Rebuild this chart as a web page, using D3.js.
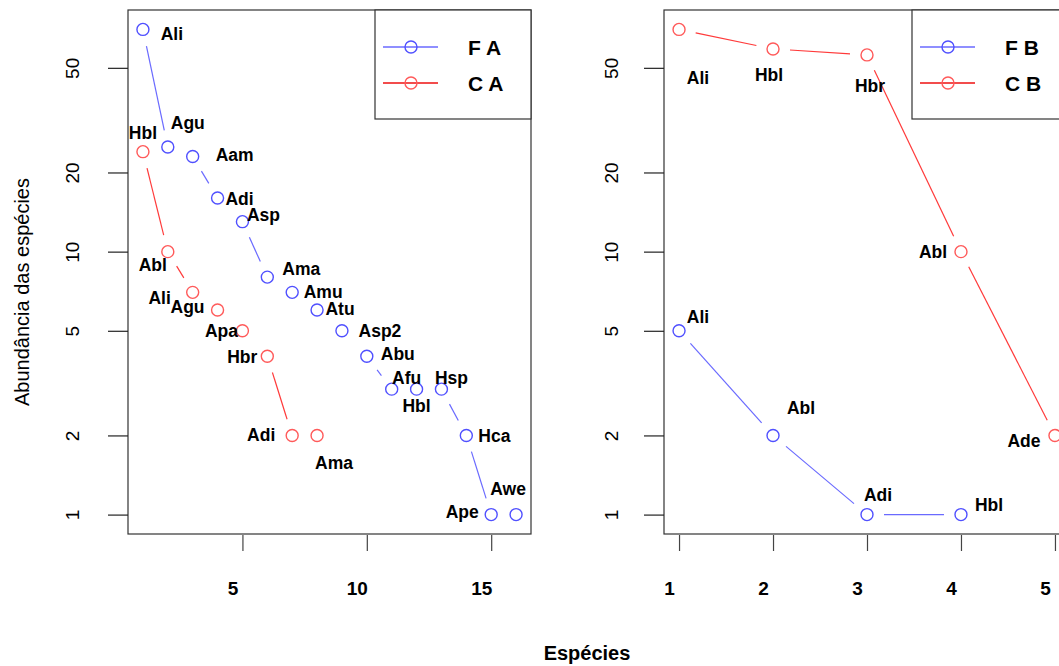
<!DOCTYPE html>
<html>
<head>
<meta charset="utf-8">
<script src="https://cdn.jsdelivr.net/npm/d3@7"></script>
<style>
  html, body { margin: 0; padding: 0; background: #fff; overflow: hidden; }
  text { font-family: "Liberation Sans", Arial, sans-serif; }
</style>
</head>
<body>
<svg id="chart" width="1059" height="666"></svg>
<script>
// ---- Data ----
const faSpecies = ["Ali","Agu","Aam","Adi","Asp","Ama","Amu","Atu","Asp2","Abu","Afu","Hbl","Hsp","Hca","Ape","Awe"];
const faValues  = [70, 25, 23, 16, 13, 8, 7, 6, 5, 4, 3, 3, 3, 2, 1, 1];
const caSpecies = ["Hbl","Abl","Ali","Agu","Apa","Hbr","Adi","Ama"];
const caValues  = [24, 10, 7, 6, 5, 4, 2, 2];
const fbSpecies = ["Ali","Abl","Adi","Hbl"];
const fbValues  = [5, 2, 1, 1];
const cbSpecies = ["Ali","Hbl","Hbr","Abl","Ade"];
const cbValues  = [70, 59, 56, 10, 2];
const yTickValues = [1, 2, 5, 10, 20, 50];
const xTicksLeft  = [5, 10, 15];
const xTicksRight = [1, 2, 3, 4, 5];
const legendLeft  = ["F A", "C A"];
const legendRight = ["F B", "C B"];

// label offsets (layout, px) relative to each point
const faLabelOff = [[29,4],[20,-24],[42,-2],[22,1],[21,-7],[34,-8],[31,-1],[23,-1],[38,0],[31,-3],[15,-11],[0,17],[10,-11],[28,0],[-29,-3],[-8,-26]];
const caLabelOff = [[0,-19],[-15,13],[-33,5],[-30,-3],[-21,0],[-25,0],[-31,-1],[17,27]];
const fbLabelOff = [[19,-14],[28,-28],[11,-20],[28,-10]];
const cbLabelOff = [[19,48],[-4,26],[3,31],[-28,0],[-31,5]];

// ---- Styles ----
const BLUE_PT = "#5050ff", BLUE_LN = "#6a6aff";
const RED_PT = "#ff5a5a", RED_LN = "#ff3a3a";
const svg = d3.select("#chart");
const plotTop = 10, plotBottom = 534;

const L = Math.log10(70);
const yDomain = [Math.pow(10, -0.04 * L), Math.pow(10, 1.04 * L)];

function panel(opts) {
  const {left, right, xDomain, series, xTicks, legend, yLabelX} = opts;
  const x = d3.scaleLinear().domain(xDomain).range([left, right]);
  const y = d3.scaleLog().domain(yDomain).range([plotBottom, plotTop]);

  const g = svg.append("g");
  const clipId = "clip" + left;
  svg.append("clipPath").attr("id", clipId)
    .append("rect").attr("x", left).attr("y", plotTop).attr("width", right - left).attr("height", plotBottom - plotTop);

  const plot = g.append("g").attr("clip-path", `url(#${clipId})`);
  const gap = 17;
  series.forEach(s => {
    const pts = s.values.map((v, i) => [x(i + 1), y(v)]);
    for (let i = 0; i < pts.length - 1; i++) {
      const [x1, y1] = pts[i], [x2, y2] = pts[i + 1];
      const len = Math.hypot(x2 - x1, y2 - y1);
      if (len <= 2 * gap + 2) continue;
      const ux = (x2 - x1) / len, uy = (y2 - y1) / len;
      plot.append("line")
        .attr("x1", x1 + ux * gap).attr("y1", y1 + uy * gap)
        .attr("x2", x2 - ux * gap).attr("y2", y2 - uy * gap)
        .attr("stroke", s.line).attr("stroke-width", 1.2);
    }
    plot.selectAll(null).data(s.values).enter().append("circle")
      .attr("cx", (d, i) => x(i + 1)).attr("cy", d => y(d)).attr("r", 6)
      .attr("fill", "none").attr("stroke", s.point).attr("stroke-width", 1.4);
    g.selectAll(null).data(s.names).enter().append("text")
      .attr("x", (d, i) => x(i + 1) + s.off[i][0])
      .attr("y", (d, i) => y(s.values[i]) + s.off[i][1])
      .attr("dy", "0.36em")
      .attr("text-anchor", "middle")
      .attr("font-weight", "bold").attr("font-size", 17.5)
      .attr("fill", "#000")
      .text(d => d);
  });

  // Box
  g.append("rect").attr("x", left).attr("y", plotTop)
    .attr("width", right - left).attr("height", plotBottom - plotTop)
    .attr("fill", "none").attr("stroke", "#333").attr("stroke-width", 1.2);

  // Y axis
  const ya = g.append("g").attr("transform", `translate(${left},0)`)
    .call(d3.axisLeft(y).tickValues(yTickValues).tickSize(20).tickFormat(d3.format("d")));
  ya.select(".domain").remove();
  ya.selectAll(".tick line").attr("stroke", "#222").attr("stroke-width", 1.2);
  ya.selectAll(".tick text")
    .attr("x", null).attr("dy", null)
    .attr("transform", `translate(${yLabelX - left},0) rotate(-90)`)
    .attr("text-anchor", "middle").attr("dominant-baseline", "central")
    .attr("font-family", "Liberation Sans, Arial, sans-serif")
    .attr("font-size", 19).attr("font-weight", "normal").attr("fill", "#000");

  // X axis (detached ticks)
  const xa = g.append("g").attr("transform", `translate(0,535)`)
    .call(d3.axisBottom(x).tickValues(xTicks).tickSize(16).tickFormat(d3.format("d")));
  xa.select(".domain").remove();
  xa.selectAll(".tick line").attr("stroke", "#444").attr("stroke-width", 1.2);
  xa.selectAll(".tick text")
    .attr("x", -10).attr("y", 53).attr("dy", "0.36em")
    .attr("font-family", "Liberation Sans, Arial, sans-serif")
    .attr("font-size", 19).attr("font-weight", "bold").attr("fill", "#000");

  // Legend
  const lx = opts.legendX, lw = right - lx;
  g.append("rect").attr("x", lx).attr("y", plotTop).attr("width", lw).attr("height", 109)
    .attr("fill", "#fff").attr("stroke", "#333").attr("stroke-width", 1.2);
  const rows = [{y: 47, line: "#6a6aff", point: BLUE_PT}, {y: 83, line: "#ee1111", point: RED_PT}];
  rows.forEach((r, i) => {
    g.append("line").attr("x1", lx + 8).attr("x2", lx + 63).attr("y1", r.y).attr("y2", r.y)
      .attr("stroke", r.line).attr("stroke-width", 1.4);
    g.append("circle").attr("cx", lx + 36).attr("cy", r.y).attr("r", 6)
      .attr("fill", "none").attr("stroke", r.point).attr("stroke-width", 1.4);
    g.append("text").attr("x", lx + 93).attr("y", r.y).attr("dy", "0.36em")
      .attr("font-weight", "bold").attr("font-size", 21).attr("fill", "#000")
      .text(legend[i]);
  });
}

panel({
  left: 128, right: 531, xDomain: [0.4, 16.6], xTicks: xTicksLeft, legend: legendLeft,
  legendX: 375, yLabelX: 72,
  series: [
    {names: faSpecies, values: faValues, off: faLabelOff, line: BLUE_LN, point: BLUE_PT},
    {names: caSpecies, values: caValues, off: caLabelOff, line: RED_LN, point: RED_PT}
  ]
});
panel({
  left: 664, right: 1070, xDomain: [0.84, 5.16], xTicks: xTicksRight, legend: legendRight,
  legendX: 912, yLabelX: 611,
  series: [
    {names: fbSpecies, values: fbValues, off: fbLabelOff, line: BLUE_LN, point: BLUE_PT},
    {names: cbSpecies, values: cbValues, off: cbLabelOff, line: RED_LN, point: RED_PT}
  ]
});

// Axis titles
svg.append("text").attr("transform", "translate(22,292) rotate(-90)")
  .attr("text-anchor", "middle").attr("dominant-baseline", "central")
  .attr("font-size", 20).attr("fill", "#000")
  .text("Abundância das espécies");
svg.append("text").attr("x", 587).attr("y", 653).attr("dy", "0.36em")
  .attr("text-anchor", "middle").attr("font-size", 20).attr("font-weight", "bold").attr("fill", "#000")
  .text("Espécies");
</script>
</body>
</html>
